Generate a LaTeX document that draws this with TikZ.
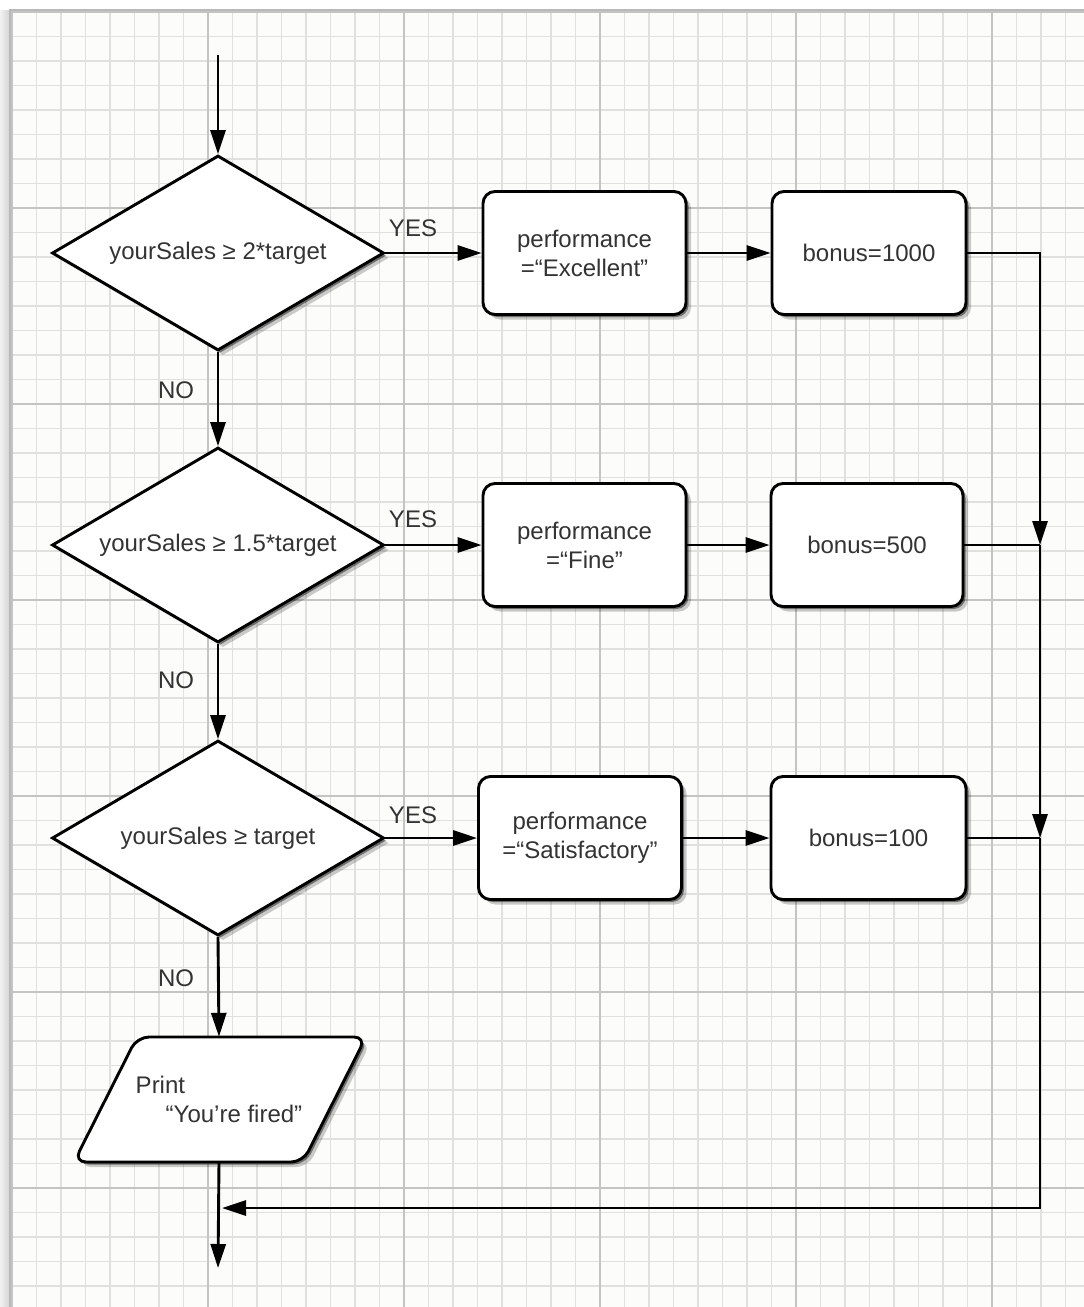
\documentclass[tikz,border=0pt]{standalone}
\usepackage{fontspec}
\setmainfont{Liberation Sans}
\usetikzlibrary{shapes.geometric,arrows.meta,shadows}
\definecolor{txt}{HTML}{333333}
\definecolor{paper}{HTML}{FCFCFA}
\definecolor{gminor}{HTML}{E0E0DE}
\definecolor{gmajor}{HTML}{C4C4C2}
\begin{document}
\begin{tikzpicture}[x=1pt,y=-1pt,
  lw/.style={line width=2.9pt},
  arr/.style={lw,-{Triangle[length=24pt,width=15pt]}},
  shd/.style={drop shadow={shadow xshift=5pt,shadow yshift=-5pt,opacity=0.2,fill=black},
              drop shadow={shadow xshift=2.5pt,shadow yshift=-2.5pt,opacity=0.45,fill=black}},
  fnt/.style={text=txt,font=\fontsize{24}{29}\selectfont},
  box/.style={draw,lw,fill=white,rounded corners=12pt,minimum height=123pt,align=center,fnt,shd},
  dec/.style={draw,lw,diamond,aspect=1.7,fill=white,minimum width=332pt,minimum height=195pt,inner sep=0pt,fnt,shd},
  ioshape/.style={draw,lw,fill=white,rounded corners=12pt,shd},
  io/.style={minimum width=292pt,minimum height=125pt,inner sep=0pt,align=left,fnt},
  lab/.style={fnt},
  minor/.style={gminor,line width=1.1pt},
  major/.style={gmajor,line width=1.6pt}]
\useasboundingbox (0,0) rectangle (1084,1307);
% paper and grid
\fill[white] (0,0) rectangle (1084,1307);
\shade[left color=gray!10,right color=gray!35] (0,10) rectangle (10,1307);
\fill[paper] (10,10) rectangle (1084,1307);
\begin{scope}
\clip (10,10) rectangle (1084,1307);
\foreach \i in {0,...,44} \draw[minor] ({12+24.5*\i},10) -- ({12+24.5*\i},1307);
\foreach \i in {0,...,52} \draw[minor] (10,{12+24.5*\i}) -- (1084,{12+24.5*\i});
\foreach \i in {0,...,5} \draw[major] ({12+196*\i},10) -- ({12+196*\i},1307);
\foreach \i in {0,...,6} \draw[major] (10,{12+196*\i}) -- (1084,{12+196*\i});
\end{scope}
\draw[gray!55,line width=1.2pt] (10,1307) -- (10,10) -- (1084,10);

% nodes
\node[dec] (d1) at (218,253) {yourSales ≥ 2*target};
\node[dec] (d2) at (218,545) {yourSales ≥ 1.5*target};
\node[dec] (d3) at (218,838) {yourSales ≥ target};
\node[box,minimum width=203pt] (b1) at (584.5,253) {performance\\=“Excellent”};
\node[box,minimum width=194pt] (b2) at (869,253) {bonus=1000};
\node[box,minimum width=203pt] (b3) at (584.5,545) {performance\\=“Fine”};
\node[box,minimum width=192pt] (b4) at (867,545) {bonus=500};
\node[box,minimum width=203pt] (b5) at (580,838) {performance\\=“Satisfactory”};
\node[box,minimum width=195pt] (b6) at (868.5,838) {bonus=100};
% output parallelogram
\draw[ioshape] (74,1162) -- (137,1037) -- (366,1037) -- (303,1162) -- cycle;
\node[io] (pr) at (219,1099.5) {Print\\\hspace*{30pt}“You're fired”};

\node[lab] (y1) at (413,228) {YES};
\node[lab] (y2) at (413,519) {YES};
\node[lab] (y3) at (413,815) {YES};
\node[lab] (n1) at (176,390) {NO};
\node[lab] (n2) at (176,680) {NO};
\node[lab] (n3) at (176,978) {NO};

\coordinate (entry) at (218,55);
\coordinate (exit) at (218,1268);
\coordinate (j2) at (1040,545);
\coordinate (j3) at (1040,838);
\coordinate (ret) at (222,1208);

% connectors
\draw[arr] (entry) -- (d1.north);
\draw[arr] (d1.south) -- (d2.north);
\draw[arr] (d2.south) -- (d3.north);
\draw[arr] (d3.south) -- (pr.north);
\draw[arr] (pr.south) -- (exit);
\draw[arr] (d1.east) -- (b1.west);
\draw[arr] (d2.east) -- (b3.west);
\draw[arr] (d3.east) -- (b5.west);
\draw[arr] (b1.east) -- (b2.west);
\draw[arr] (b3.east) -- (b4.west);
\draw[arr] (b5.east) -- (b6.west);
\draw[arr] (b2.east) -| (j2);
\draw[lw] (b4.east) -- (j2);
\draw[arr] (j2) -- (j3);
\draw[lw] (b6.east) -- (j3);
\draw[arr] (j3) |- (ret);
\end{tikzpicture}
\end{document}
